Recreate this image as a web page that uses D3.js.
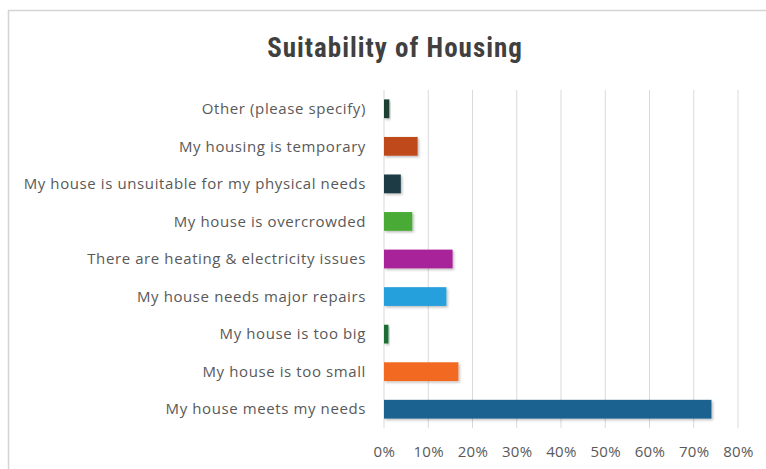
<!DOCTYPE html>
<html><head><meta charset="utf-8">
<script src="https://cdn.jsdelivr.net/npm/d3@7"></script>
<style>
html,body{margin:0;padding:0;background:#fff;}
</style></head>
<body>
<svg id="c" width="766" height="469"></svg>
<script>
const title = "Suitability of Housing";
const categories = [
  "Other (please specify)",
  "My housing is temporary",
  "My house is unsuitable for my physical needs",
  "My house is overcrowded",
  "There are heating & electricity issues",
  "My house needs major repairs",
  "My house is too big",
  "My house is too small",
  "My house meets my needs"
];
const values = [0.012, 0.076, 0.038, 0.064, 0.155, 0.141, 0.010, 0.168, 0.740];
const colors = ["#1f3f33","#c04a1a","#1c3a45","#4aaa35","#a8239a","#26a0dc","#1b6e35","#f26a21","#1e6290"];
const ticks = [0,0.1,0.2,0.3,0.4,0.5,0.6,0.7,0.8];

const svg = d3.select("#c");
const defs = svg.append("defs");
const f = defs.append("filter").attr("id","sh").attr("x","-10%").attr("y","-30%").attr("width","130%").attr("height","180%");
f.append("feDropShadow").attr("dx",1.5).attr("dy",1.5).attr("stdDeviation",1.2).attr("flood-color","#000").attr("flood-opacity",0.25);

// frame
svg.append("rect").attr("x",8.5).attr("y",10.5).attr("width",770).attr("height",470)
  .attr("fill","#fff").attr("stroke","#d4d4d4").attr("stroke-width",1.5);

const x = d3.scaleLinear().domain([0,0.8]).range([384,738]);
const y = d3.scaleBand().domain(categories).range([90,428]).paddingInner(0.5).paddingOuter(0.25);

// grid
svg.append("g").selectAll("line").data(ticks).join("line")
  .attr("x1",d=>x(d)).attr("x2",d=>x(d)).attr("y1",90).attr("y2",428)
  .attr("stroke","#d9d9d9").attr("stroke-width",1);

// bars
svg.append("g").selectAll("rect").data(categories).join("rect")
  .attr("x",x(0)).attr("y",d=>y(d)).attr("height",y.bandwidth())
  .attr("width",(d,i)=>x(values[i])-x(0))
  .attr("fill",(d,i)=>colors[i]).attr("filter","url(#sh)");

// category labels
svg.append("g").selectAll("text").data(categories).join("text")
  .attr("x",366).attr("y",d=>y(d)+y.bandwidth()/2).attr("dy","0.35em")
  .attr("text-anchor","end").attr("font-family","'Open Sans', sans-serif")
  .attr("font-size",15).attr("letter-spacing",0.6).attr("fill","#595959").text(d=>d);

// x axis
const ax = svg.append("g").attr("transform","translate(0,428)")
  .call(d3.axisBottom(x).tickValues(ticks).tickFormat(d3.format(".0%")).tickSize(0).tickPadding(18));
ax.select(".domain").remove();
ax.selectAll("text").attr("font-family","'Open Sans', sans-serif").attr("font-size",15).attr("letter-spacing",0.4).attr("fill","#595959");

// title
svg.append("text").attr("x",395).attr("y",57).attr("text-anchor","middle")
  .attr("font-family","'Liberation Sans Narrow','Roboto Condensed','DejaVu Sans Condensed',sans-serif")
  .attr("font-weight","bold").attr("font-size",27).attr("letter-spacing",1).attr("fill","#404040").text(title);
</script>
</body></html>
